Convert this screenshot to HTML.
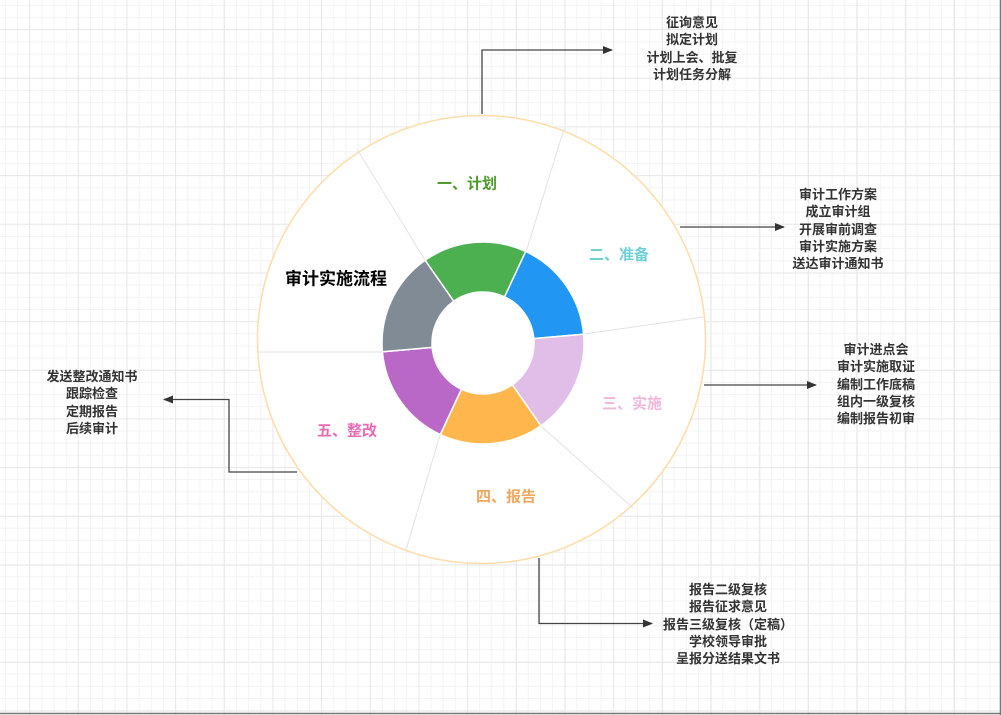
<!DOCTYPE html>
<html><head><meta charset="utf-8"><style>
html,body{margin:0;padding:0}
body{width:1001px;height:715px;position:relative;overflow:hidden;background-color:#fff;
background-image:
linear-gradient(to right,#e8e8e8 1px,transparent 1px),
linear-gradient(to bottom,#e8e8e8 1px,transparent 1px),
linear-gradient(to right,#f3f3f3 1px,transparent 1px),
linear-gradient(to bottom,#f3f3f3 1px,transparent 1px);
background-size:48.7px 48.7px,48.7px 48.7px,12.17px 12.17px,12.17px 12.17px;
background-position:29px 29px,29px 29px,5px 5px,5px 5px;
font-family:"Liberation Sans","Noto Sans CJK SC",sans-serif;}
.t{position:absolute;transform:translateX(-50%);text-align:center;font-size:13px;font-weight:bold;color:#333;line-height:17.3px;white-space:nowrap}
.l{position:absolute;transform:translate(-50%,-50%);font-weight:bold;font-size:15px;white-space:nowrap}
</style></head><body>
<svg width="1001" height="715" style="position:absolute;left:0;top:0">
<defs><marker id="a" markerWidth="10" markerHeight="8" refX="9" refY="4" orient="auto" markerUnits="userSpaceOnUse"><path d="M0,0 L10,4 L0,8 Z" fill="#333"/></marker></defs>
<g fill="none" stroke="#444" stroke-width="1.3">
<path d="M482,114 V50 H612" marker-end="url(#a)"/>
<path d="M680,227 H784" marker-end="url(#a)"/>
<path d="M704,385 H816" marker-end="url(#a)"/>
<path d="M297,472 H229 V399.5 H164" marker-end="url(#a)"/>
<path d="M539,558 V623.5 H652" marker-end="url(#a)"/>
</g>
<circle cx="481.5" cy="339.5" r="224" fill="#fff" stroke="#ffdca8" stroke-width="1.5"/>
<g stroke="#e2e2e2" stroke-width="1">
<line x1="357" y1="149" x2="425" y2="260"/>
<line x1="564" y1="129" x2="526" y2="252"/>
<line x1="703" y1="317" x2="584" y2="334"/>
<line x1="633" y1="508" x2="541" y2="426"/>
<line x1="406" y1="550" x2="440" y2="435"/>
<line x1="258" y1="352" x2="382" y2="352"/>
</g>
<g stroke="#fff" stroke-width="1.5">
<path fill="#4caf50" d="M425.1,260.3 A101,101 0 0 1 525.7,251.5 L504.6,296.8 A51,51 0 0 0 453.7,301.2 Z"/>
<path fill="#2196f3" d="M525.7,251.5 A101,101 0 0 1 583.6,334.2 L533.8,338.6 A51,51 0 0 0 504.6,296.8 Z"/>
<path fill="#e1bee7" d="M583.6,334.2 A101,101 0 0 1 540.9,425.7 L512.3,384.8 A51,51 0 0 0 533.8,338.6 Z"/>
<path fill="#ffb74d" d="M540.9,425.7 A101,101 0 0 1 440.3,434.5 L461.4,389.2 A51,51 0 0 0 512.3,384.8 Z"/>
<path fill="#ba68c8" d="M440.3,434.5 A101,101 0 0 1 382.4,351.8 L432.2,347.4 A51,51 0 0 0 461.4,389.2 Z"/>
<path fill="#808b96" d="M382.4,351.8 A101,101 0 0 1 425.1,260.3 L453.7,301.2 A51,51 0 0 0 432.2,347.4 Z"/>
</g>
<line x1="0" y1="713.5" x2="1001" y2="713.5" stroke="#777" stroke-width="1.5"/>
<line x1="1000.5" y1="0" x2="1000.5" y2="715" stroke="#777" stroke-width="1.5"/>
</svg>
<div class="l" style="left:467px;top:183px;color:#4e9a2a">一、计划</div>
<div class="l" style="left:619px;top:254px;color:#6fd0d6">二、准备</div>
<div class="l" style="left:632px;top:403px;color:#f2b6da">三、实施</div>
<div class="l" style="left:506px;top:496px;color:#f0a75e">四、报告</div>
<div class="l" style="left:347px;top:430px;color:#e86cb2">五、整改</div>
<div class="l" style="left:336px;top:277px;color:#000;font-size:17px">审计实施流程</div>
<div class="t" style="left:692px;top:14px">征询意见<br>拟定计划<br>计划上会、批复<br>计划任务分解</div>
<div class="t" style="left:838px;top:186px">审计工作方案<br>成立审计组<br>开展审前调查<br>审计实施方案<br>送达审计通知书</div>
<div class="t" style="left:876px;top:341px">审计进点会<br>审计实施取证<br>编制工作底稿<br>组内一级复核<br>编制报告初审</div>
<div class="t" style="left:92px;top:368px">发送整改通知书<br>跟踪检查<br>定期报告<br>后续审计</div>
<div class="t" style="left:728px;top:581px">报告二级复核<br>报告征求意见<br>报告三级复核（定稿）<br>学校领导审批<br>呈报分送结果文书</div>
</body></html>
